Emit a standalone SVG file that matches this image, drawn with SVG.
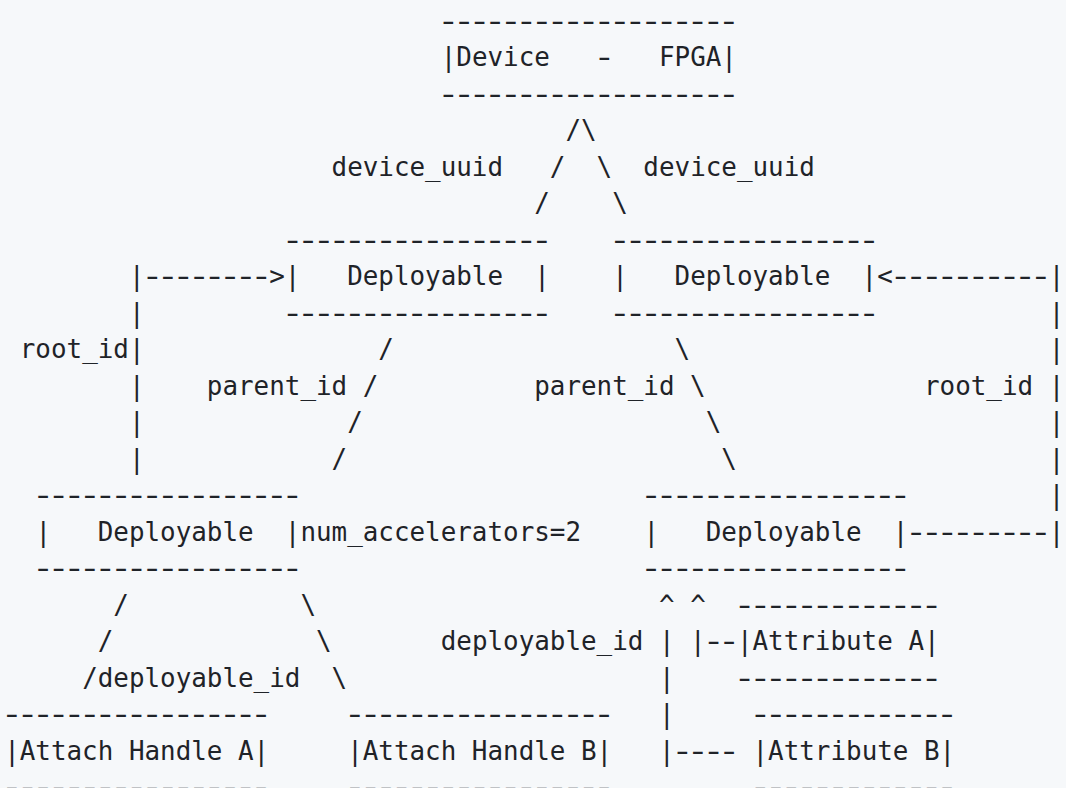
<svg xmlns="http://www.w3.org/2000/svg" width="1066" height="788" viewBox="0 0 1066 788">
  <style>
    text { font-family: "DejaVu Sans Mono", "Liberation Mono", monospace; font-size: 25.9px; fill: #1f2328; white-space: pre; }
    /* hyphen runs: larger glyphs squeezed back onto the 15.59px grid, flattened vertically */
    text.rule { font-size: 37.7px; letter-spacing: -7.11px; }
  </style>
  <rect x="0" y="0" width="1066" height="788" fill="#f6f8fa"/>

  <!-- column x = 4.2 + 15.59*col ; row baseline y = 29.5 + 36.5*row -->

  <g id="device-fpga">
    <text class="rule" transform="translate(437.12 29.5) scale(1 0.69)">-------------------</text>
    <text x="440.72" y="66">|Device</text>
    <text class="rule" transform="translate(593.02 66) scale(1 0.69)">-</text>
    <text x="658.98" y="66">FPGA|</text>
    <text class="rule" transform="translate(437.12 102.5) scale(1 0.69)">-------------------</text>
  </g>

  <g id="deployable-top-left">
    <text class="rule" transform="translate(281.22 248.5) scale(1 0.69)">-----------------</text>
    <text x="284.82" y="285">|   Deployable  |</text>
    <text class="rule" transform="translate(281.22 321.5) scale(1 0.69)">-----------------</text>
  </g>

  <g id="deployable-top-right">
    <text class="rule" transform="translate(608.61 248.5) scale(1 0.69)">-----------------</text>
    <text x="612.21" y="285">|   Deployable  |</text>
    <text class="rule" transform="translate(608.61 321.5) scale(1 0.69)">-----------------</text>
  </g>

  <g id="deployable-bottom-left">
    <text class="rule" transform="translate(31.78 504) scale(1 0.69)">-----------------</text>
    <text x="35.38" y="540.5">|   Deployable  |</text>
    <text class="rule" transform="translate(31.78 577) scale(1 0.69)">-----------------</text>
  </g>

  <g id="deployable-bottom-right">
    <text class="rule" transform="translate(639.79 504) scale(1 0.69)">-----------------</text>
    <text x="643.39" y="540.5">|   Deployable  |</text>
    <text class="rule" transform="translate(639.79 577) scale(1 0.69)">-----------------</text>
  </g>

  <g id="attach-handle-a">
    <text class="rule" transform="translate(0.6 723) scale(1 0.69)">-----------------</text>
    <text x="4.2" y="759.5">|Attach Handle A|</text>
    <text class="rule" transform="translate(0.6 796) scale(1 0.69)">-----------------</text>
  </g>

  <g id="attach-handle-b">
    <text class="rule" transform="translate(343.58 723) scale(1 0.69)">-----------------</text>
    <text x="347.18" y="759.5">|Attach Handle B|</text>
    <text class="rule" transform="translate(343.58 796) scale(1 0.69)">-----------------</text>
  </g>

  <g id="attribute-a">
    <text class="rule" transform="translate(733.33 613.5) scale(1 0.69)">-------------</text>
    <text x="736.93" y="650">|Attribute A|</text>
    <text class="rule" transform="translate(733.33 686.5) scale(1 0.69)">-------------</text>
  </g>

  <g id="attribute-b">
    <text class="rule" transform="translate(748.92 723) scale(1 0.69)">-------------</text>
    <text x="752.52" y="759.5">|Attribute B|</text>
    <text class="rule" transform="translate(748.92 796) scale(1 0.69)">-------------</text>
  </g>

  <g id="connectors">
    <!-- device_uuid links -->
    <text x="565.44" y="139">/\</text>
    <text x="331.59" y="175.5">device_uuid</text>
    <text x="549.85" y="175.5">/  \  device_uuid</text>
    <text x="534.26" y="212">/</text>
    <text x="612.21" y="212">\</text>

    <!-- root_id links -->
    <text x="128.92" y="285">|</text>
    <text class="rule" transform="translate(140.91 285) scale(1 0.69)">--------</text>
    <text x="269.23" y="285">&gt;</text>
    <text x="877.24" y="285">&lt;</text>
    <text class="rule" transform="translate(889.23 285) scale(1 0.69)">----------</text>
    <text x="1048.73" y="285">|</text>
    <text x="128.92" y="321.5">|</text>
    <text x="1048.73" y="321.5">|</text>
    <text x="19.79" y="358">root_id|</text>
    <text x="1048.73" y="358">|</text>
    <text x="128.92" y="394.5">|</text>
    <text x="924.01" y="394.5">root_id |</text>
    <text x="128.92" y="431">|</text>
    <text x="1048.73" y="431">|</text>
    <text x="128.92" y="467.5">|</text>
    <text x="1048.73" y="467.5">|</text>
    <text x="1048.73" y="504">|</text>
    <text class="rule" transform="translate(904.82 540.5) scale(1 0.69)">---------</text>
    <text x="1048.73" y="540.5">|</text>

    <!-- parent_id links -->
    <text x="378.36" y="358">/</text>
    <text x="674.57" y="358">\</text>
    <text x="206.87" y="394.5">parent_id /</text>
    <text x="534.26" y="394.5">parent_id \</text>
    <text x="347.18" y="431">/</text>
    <text x="705.75" y="431">\</text>
    <text x="331.59" y="467.5">/</text>
    <text x="721.34" y="467.5">\</text>

    <text x="300.41" y="540.5">num_accelerators=2</text>

    <!-- deployable_id links -->
    <text x="113.33" y="613.5">/</text>
    <text x="300.41" y="613.5">\</text>
    <text x="658.98" y="613.5">^ ^</text>
    <text x="97.74" y="650">/</text>
    <text x="316" y="650">\</text>
    <text x="440.72" y="650">deployable_id | |</text>
    <text class="rule" transform="translate(702.15 650) scale(1 0.69)">--</text>
    <text x="82.15" y="686.5">/deployable_id  \</text>
    <text x="658.98" y="686.5">|</text>
    <text x="658.98" y="723">|</text>
    <text x="658.98" y="759.5">|</text>
    <text class="rule" transform="translate(670.97 759.5) scale(1 0.69)">----</text>
  </g>
</svg>
